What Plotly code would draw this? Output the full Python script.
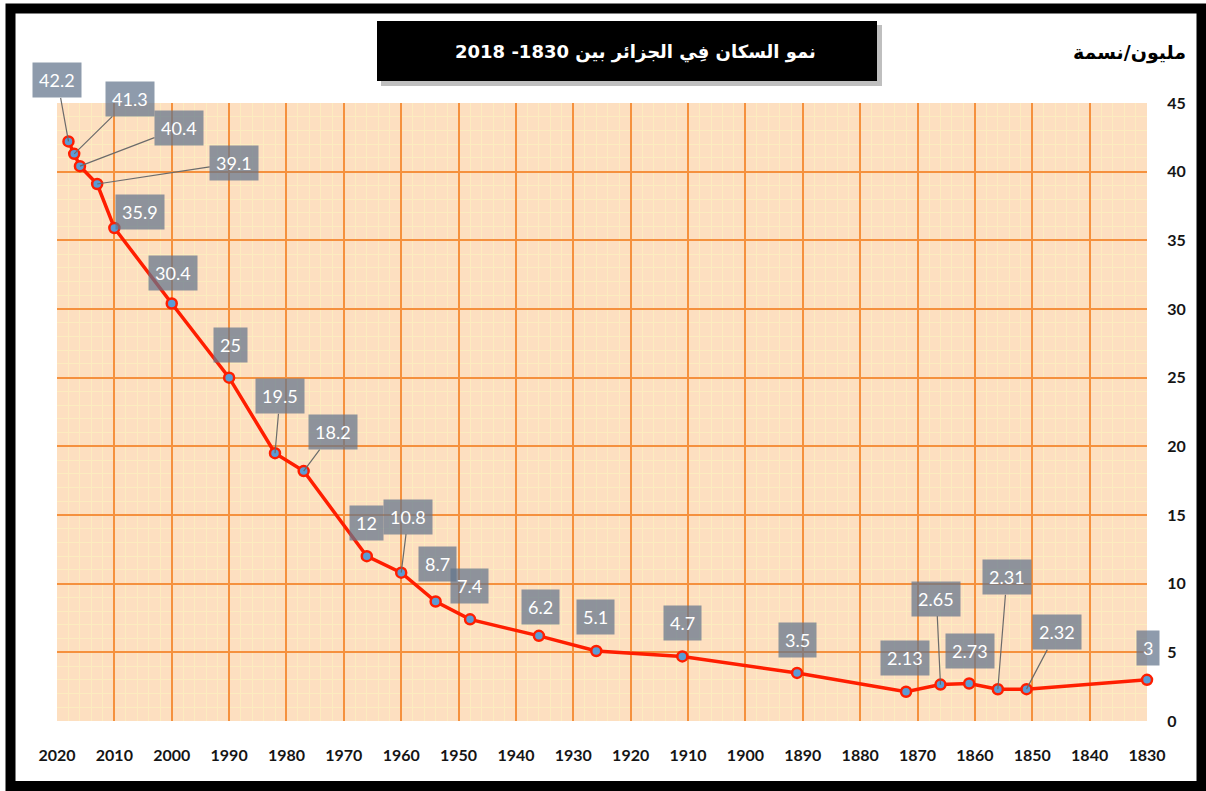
import plotly.graph_objects as go

# ---- data ----
years = [2018, 2017, 2016, 2013, 2010, 2000, 1990, 1982, 1977, 1966, 1960, 1954,
         1948, 1936, 1926, 1911, 1891, 1872, 1866, 1861, 1856, 1851, 1830]
population = [42.2, 41.3, 40.4, 39.1, 35.9, 30.4, 25, 19.5, 18.2, 12, 10.8, 8.7,
              7.4, 6.2, 5.1, 4.7, 3.5, 2.13, 2.65, 2.73, 2.31, 2.32, 3]
value_labels = ["42.2", "41.3", "40.4", "39.1", "35.9", "30.4", "25", "19.5", "18.2",
                "12", "10.8", "8.7", "7.4", "6.2", "5.1", "4.7", "3.5", "2.13", "2.65",
                "2.73", "2.31", "2.32", "3"]
x_ticks = list(range(2020, 1829, -10))
y_ticks = list(range(0, 46, 5))

title_text = "\u202bنمو السكان فِي الجزائر بين 1830- 2018\u202c"
y_title = "مليون/نسمة"

# ---- label layout (pixel offsets of box centre from point; leader line flag) ----
label_offsets = [(-11, -61, True), (56, -55, True), (99, -38, True), (137, -21, True),
                 (26, -16, False), (1, -31, False), (1, -33, False), (5, -57, True),
                 (29, -39, True), (0, -33, False), (7, -56, True), (2, -38, False),
                 (-1, -33, False), (2, -29, False), (-1, -34, False), (0, -33, False),
                 (0, -33, False), (-1, -34, False), (-4, -86, True), (1, -33, False),
                 (9, -112, True), (30, -57, True), (1, -32, False)]

W, H = 1206, 791
L, R, T, B = 57, 1147, 103, 721


def px(x):
    return (x - L) / (R - L)


def py(y):
    return (B - y) / (B - T)


fig = go.Figure()
fig.add_trace(go.Scatter(
    x=years, y=population, mode="lines+markers",
    line=dict(color="#ff1e00", width=3.5),
    marker=dict(size=10, color="#5b9bd5", line=dict(color="#ff1e00", width=2.5)),
    cliponaxis=False, showlegend=False, hoverinfo="x+y"))

box_color = "rgba(98,116,140,0.72)"
label_font = dict(family="Lato, Open Sans, sans-serif", size=18, color="white")
for yr, v, lab, (dx, dy, leader) in zip(years, population, value_labels, label_offsets):
    if leader:
        fig.add_annotation(x=yr, y=v, text=lab, showarrow=True, ax=dx, ay=dy,
                           arrowhead=0, arrowwidth=1.2, arrowcolor="#6b6b6b",
                           bgcolor=box_color, borderpad=6, font=label_font)
    else:
        fig.add_annotation(x=yr, y=v, text=lab, showarrow=False, xshift=dx, yshift=-dy,
                           xanchor="center", yanchor="middle",
                           bgcolor=box_color, borderpad=6, font=label_font)

# title box with shadow
fig.add_shape(type="rect", xref="paper", yref="paper",
              x0=px(381), x1=px(882), y0=py(86), y1=py(25),
              fillcolor="rgba(0,0,0,0.25)", line=dict(width=0), layer="above")
fig.add_shape(type="rect", xref="paper", yref="paper",
              x0=px(377), x1=px(877), y0=py(81), y1=py(21),
              fillcolor="black", line=dict(width=0), layer="above")
fig.add_annotation(xref="paper", yref="paper", x=px(635), y=py(52), text=title_text,
                   xanchor="center", yanchor="middle",
                   showarrow=False, font=dict(family="DejaVu Sans, sans-serif", size=18,
                                              color="white", weight="bold"))
# y axis title
fig.add_annotation(xref="paper", yref="paper", x=px(1129), y=py(53), text=y_title,
                   xanchor="center", yanchor="middle",
                   showarrow=False, font=dict(family="DejaVu Sans, sans-serif", size=19,
                                              color="black", weight="bold"))
# outer frame
fig.add_shape(type="rect", xref="paper", yref="paper",
              x0=px(10.5), x1=px(1201.5), y0=py(786), y1=py(8.5),
              line=dict(color="black", width=10), fillcolor="rgba(0,0,0,0)", layer="above")

tick_font = dict(family="Lato, sans-serif", size=16, color="#151515", weight="bold")
fig.update_xaxes(range=[2020, 1830], tickvals=x_ticks, ticktext=[str(t) for t in x_ticks],
                 showgrid=True, gridcolor="#f5913e", gridwidth=2,
                 ticks="outside", ticklen=20, tickcolor="rgba(0,0,0,0)",
                 tickfont=tick_font, zeroline=False, showline=False,
                 minor=dict(dtick=2, showgrid=True, gridcolor="#fcecbf", gridwidth=1,
                            tick0=1830))
fig.update_yaxes(range=[0, 45], tickvals=y_ticks, side="right",
                 showgrid=True, gridcolor="#f5913e", gridwidth=2,
                 ticks="outside", ticklen=16, tickcolor="rgba(0,0,0,0)",
                 tickfont=tick_font, zeroline=False, showline=False,
                 minor=dict(dtick=1, showgrid=True, gridcolor="#fcecbf", gridwidth=1))

fig.update_layout(width=W, height=H, margin=dict(l=L, r=W - R, t=T, b=H - B),
                  paper_bgcolor="white", plot_bgcolor="#fddfc0")

fig.write_html("out.html", config={"displayModeBar": False},
               post_script="document.body.style.margin='0px';"
                           "document.body.style.overflow='hidden';")
